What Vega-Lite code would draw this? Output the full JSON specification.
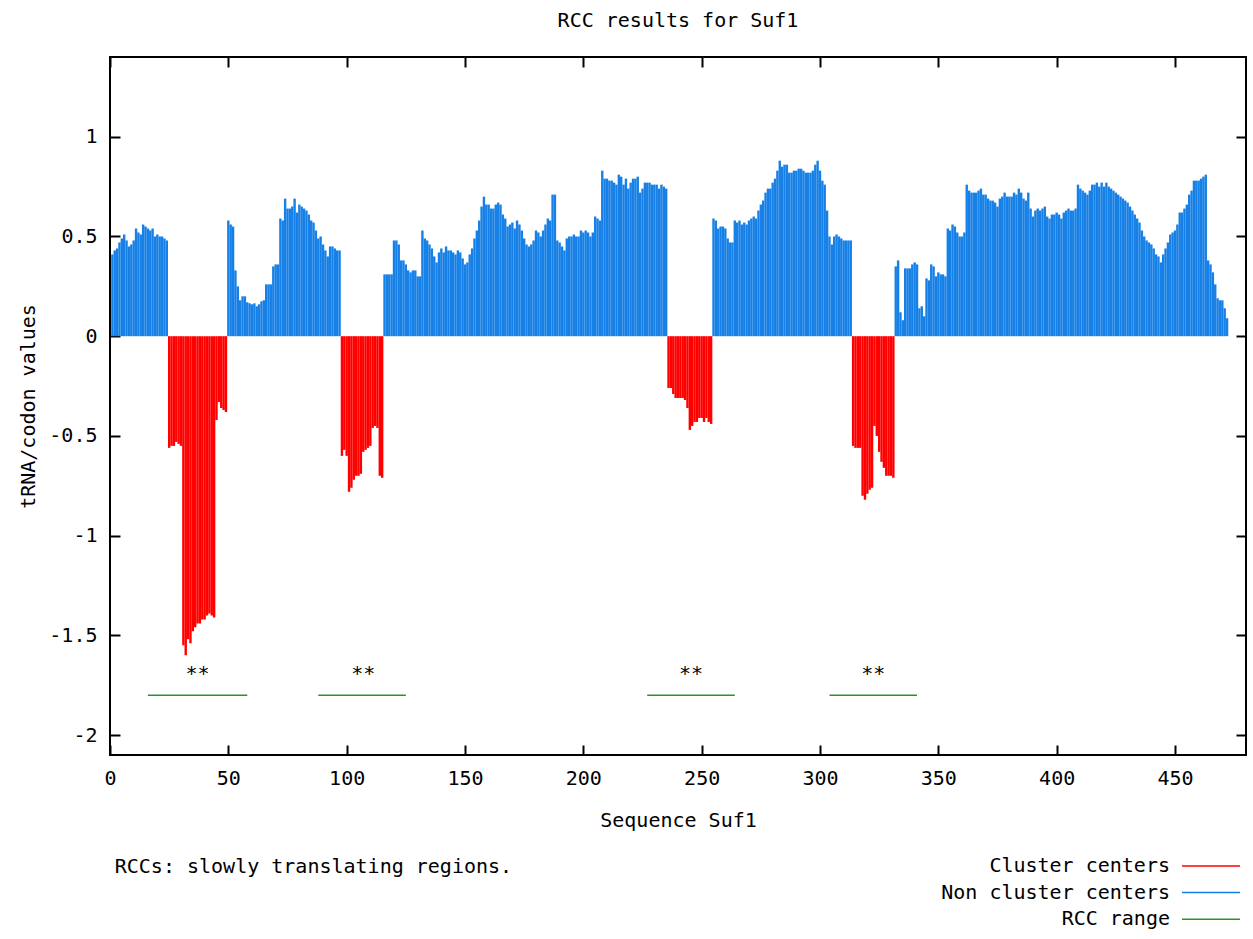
{
"$schema": "https://vega.github.io/schema/vega-lite/v6.json",
"width": 1136, "height": 698,
"autosize": {"type": "none"},
"padding": {"left": 110, "top": 57, "right": 7, "bottom": 184},
"background": "white",
"title": {"text": "RCC results for Suf1", "font": "DejaVu Sans Mono", "fontSize": 20, "fontWeight": "normal", "color": "black", "anchor": "middle", "offset": 25},
"config": {
 "view": {"stroke": "black", "strokeWidth": 2},
 "axis": {"labelFont": "DejaVu Sans Mono", "labelFontSize": 20, "labelColor": "black", "titleFont": "DejaVu Sans Mono", "titleFontSize": 20, "titleFontWeight": "normal", "titleColor": "black", "ticks": true, "tickColor": "black", "tickSize": 10, "tickWidth": 2, "domain": false, "grid": false, "offset": -10, "labelFlush": false, "labelOverlap": false},
 "legend": {"orient": "none", "legendX": 1090, "legendY": 798, "title": null, "symbolType": "M-2.9,0H2.9", "symbolSize": 400, "symbolStrokeWidth": 1.5, "labelAlign": "right", "labelOffset": -52, "labelFont": "DejaVu Sans Mono", "labelFontSize": 20, "labelColor": "black", "rowPadding": 5.6, "padding": 0, "labelLimit": 0}
},
"datasets": {
 "noncluster": [
  {"p":1,"v":0.41},{"p":2,"v":0.43},{"p":3,"v":0.44},{"p":4,"v":0.47},{"p":5,"v":0.49},{"p":6,"v":0.51},{"p":7,"v":0.48},{"p":8,"v":0.45},{"p":9,"v":0.46},{"p":10,"v":0.48},
  {"p":11,"v":0.54},{"p":12,"v":0.52},{"p":13,"v":0.51},{"p":14,"v":0.56},{"p":15,"v":0.55},{"p":16,"v":0.54},{"p":17,"v":0.53},{"p":18,"v":0.54},{"p":19,"v":0.50},{"p":20,"v":0.51},
  {"p":21,"v":0.50},{"p":22,"v":0.50},{"p":23,"v":0.49},{"p":24,"v":0.48},
  {"p":50,"v":0.58},{"p":51,"v":0.56},{"p":52,"v":0.55},{"p":53,"v":0.33},{"p":54,"v":0.25},{"p":55,"v":0.18},{"p":56,"v":0.20},{"p":57,"v":0.20},{"p":58,"v":0.17},{"p":59,"v":0.165},
  {"p":60,"v":0.16},{"p":61,"v":0.165},{"p":62,"v":0.15},{"p":63,"v":0.16},{"p":64,"v":0.175},{"p":65,"v":0.18},{"p":66,"v":0.26},{"p":67,"v":0.26},{"p":68,"v":0.26},{"p":69,"v":0.35},
  {"p":70,"v":0.36},{"p":71,"v":0.36},{"p":72,"v":0.59},{"p":73,"v":0.58},{"p":74,"v":0.69},{"p":75,"v":0.64},{"p":76,"v":0.64},{"p":77,"v":0.65},{"p":78,"v":0.69},{"p":79,"v":0.62},
  {"p":80,"v":0.66},{"p":81,"v":0.65},{"p":82,"v":0.64},{"p":83,"v":0.63},{"p":84,"v":0.61},{"p":85,"v":0.58},{"p":86,"v":0.57},{"p":87,"v":0.53},{"p":88,"v":0.49},{"p":89,"v":0.50},
  {"p":90,"v":0.46},{"p":91,"v":0.43},{"p":92,"v":0.40},{"p":93,"v":0.45},{"p":94,"v":0.45},{"p":95,"v":0.44},{"p":96,"v":0.43},{"p":97,"v":0.43},
  {"p":116,"v":0.31},{"p":117,"v":0.31},{"p":118,"v":0.31},{"p":119,"v":0.31},
  {"p":120,"v":0.48},{"p":121,"v":0.48},{"p":122,"v":0.46},{"p":123,"v":0.38},{"p":124,"v":0.38},{"p":125,"v":0.36},{"p":126,"v":0.33},{"p":127,"v":0.32},{"p":128,"v":0.33},{"p":129,"v":0.33},
  {"p":130,"v":0.30},{"p":131,"v":0.30},{"p":132,"v":0.53},{"p":133,"v":0.49},{"p":134,"v":0.48},{"p":135,"v":0.46},{"p":136,"v":0.44},{"p":137,"v":0.40},{"p":138,"v":0.37},{"p":139,"v":0.42},
  {"p":140,"v":0.44},{"p":141,"v":0.42},{"p":142,"v":0.45},{"p":143,"v":0.43},{"p":144,"v":0.43},{"p":145,"v":0.42},{"p":146,"v":0.41},{"p":147,"v":0.43},{"p":148,"v":0.42},{"p":149,"v":0.39},
  {"p":150,"v":0.36},{"p":151,"v":0.37},{"p":152,"v":0.41},{"p":153,"v":0.44},{"p":154,"v":0.49},{"p":155,"v":0.53},{"p":156,"v":0.58},{"p":157,"v":0.65},{"p":158,"v":0.70},{"p":159,"v":0.66},
  {"p":160,"v":0.66},{"p":161,"v":0.64},{"p":162,"v":0.64},{"p":163,"v":0.66},{"p":164,"v":0.67},{"p":165,"v":0.66},{"p":166,"v":0.61},{"p":167,"v":0.59},{"p":168,"v":0.55},{"p":169,"v":0.56},
  {"p":170,"v":0.57},{"p":171,"v":0.54},{"p":172,"v":0.58},{"p":173,"v":0.56},{"p":174,"v":0.53},{"p":175,"v":0.49},{"p":176,"v":0.46},{"p":177,"v":0.45},{"p":178,"v":0.46},{"p":179,"v":0.48},
  {"p":180,"v":0.53},{"p":181,"v":0.52},{"p":182,"v":0.50},{"p":183,"v":0.53},{"p":184,"v":0.56},{"p":185,"v":0.59},{"p":186,"v":0.58},{"p":187,"v":0.71},{"p":188,"v":0.71},{"p":189,"v":0.48},
  {"p":190,"v":0.47},{"p":191,"v":0.45},{"p":192,"v":0.43},{"p":193,"v":0.49},{"p":194,"v":0.50},{"p":195,"v":0.50},{"p":196,"v":0.51},{"p":197,"v":0.50},{"p":198,"v":0.50},{"p":199,"v":0.53},
  {"p":200,"v":0.52},{"p":201,"v":0.53},{"p":202,"v":0.52},{"p":203,"v":0.50},{"p":204,"v":0.52},{"p":205,"v":0.60},{"p":206,"v":0.59},{"p":207,"v":0.58},{"p":208,"v":0.83},{"p":209,"v":0.79},
  {"p":210,"v":0.79},{"p":211,"v":0.78},{"p":212,"v":0.78},{"p":213,"v":0.77},{"p":214,"v":0.76},{"p":215,"v":0.81},{"p":216,"v":0.80},{"p":217,"v":0.76},{"p":218,"v":0.79},{"p":219,"v":0.74},
  {"p":220,"v":0.77},{"p":221,"v":0.79},{"p":222,"v":0.79},{"p":223,"v":0.80},{"p":224,"v":0.72},{"p":225,"v":0.74},{"p":226,"v":0.77},{"p":227,"v":0.77},{"p":228,"v":0.77},{"p":229,"v":0.76},
  {"p":230,"v":0.76},{"p":231,"v":0.76},{"p":232,"v":0.74},{"p":233,"v":0.76},{"p":234,"v":0.75},{"p":235,"v":0.74},
  {"p":255,"v":0.59},{"p":256,"v":0.58},{"p":257,"v":0.54},{"p":258,"v":0.55},{"p":259,"v":0.55},
  {"p":260,"v":0.54},{"p":261,"v":0.49},{"p":262,"v":0.47},{"p":263,"v":0.47},{"p":264,"v":0.58},{"p":265,"v":0.57},{"p":266,"v":0.58},{"p":267,"v":0.56},{"p":268,"v":0.57},{"p":269,"v":0.56},
  {"p":270,"v":0.58},{"p":271,"v":0.59},{"p":272,"v":0.60},{"p":273,"v":0.59},{"p":274,"v":0.63},{"p":275,"v":0.66},{"p":276,"v":0.68},{"p":277,"v":0.72},{"p":278,"v":0.74},{"p":279,"v":0.74},
  {"p":280,"v":0.77},{"p":281,"v":0.79},{"p":282,"v":0.83},{"p":283,"v":0.88},{"p":284,"v":0.85},{"p":285,"v":0.86},{"p":286,"v":0.86},{"p":287,"v":0.82},{"p":288,"v":0.82},{"p":289,"v":0.83},
  {"p":290,"v":0.83},{"p":291,"v":0.84},{"p":292,"v":0.84},{"p":293,"v":0.83},{"p":294,"v":0.82},{"p":295,"v":0.82},{"p":296,"v":0.82},{"p":297,"v":0.83},{"p":298,"v":0.86},{"p":299,"v":0.88},
  {"p":300,"v":0.83},{"p":301,"v":0.78},{"p":302,"v":0.76},{"p":303,"v":0.63},{"p":304,"v":0.50},{"p":305,"v":0.46},{"p":306,"v":0.50},{"p":307,"v":0.51},{"p":308,"v":0.50},{"p":309,"v":0.49},
  {"p":310,"v":0.48},{"p":311,"v":0.48},{"p":312,"v":0.48},{"p":313,"v":0.48},
  {"p":332,"v":0.35},{"p":333,"v":0.38},{"p":334,"v":0.12},{"p":335,"v":0.08},{"p":336,"v":0.34},{"p":337,"v":0.34},{"p":338,"v":0.34},{"p":339,"v":0.36},
  {"p":340,"v":0.37},{"p":341,"v":0.36},{"p":342,"v":0.14},{"p":343,"v":0.15},{"p":344,"v":0.10},{"p":345,"v":0.29},{"p":346,"v":0.28},{"p":347,"v":0.36},{"p":348,"v":0.35},{"p":349,"v":0.30},
  {"p":350,"v":0.32},{"p":351,"v":0.31},{"p":352,"v":0.31},{"p":353,"v":0.30},{"p":354,"v":0.54},{"p":355,"v":0.53},{"p":356,"v":0.56},{"p":357,"v":0.55},{"p":358,"v":0.52},{"p":359,"v":0.50},
  {"p":360,"v":0.50},{"p":361,"v":0.52},{"p":362,"v":0.76},{"p":363,"v":0.73},{"p":364,"v":0.72},{"p":365,"v":0.72},{"p":366,"v":0.72},{"p":367,"v":0.73},{"p":368,"v":0.74},{"p":369,"v":0.71},
  {"p":370,"v":0.71},{"p":371,"v":0.69},{"p":372,"v":0.68},{"p":373,"v":0.68},{"p":374,"v":0.67},{"p":375,"v":0.65},{"p":376,"v":0.69},{"p":377,"v":0.70},{"p":378,"v":0.72},{"p":379,"v":0.70},
  {"p":380,"v":0.70},{"p":381,"v":0.70},{"p":382,"v":0.72},{"p":383,"v":0.71},{"p":384,"v":0.74},{"p":385,"v":0.72},{"p":386,"v":0.69},{"p":387,"v":0.68},{"p":388,"v":0.72},{"p":389,"v":0.64},
  {"p":390,"v":0.60},{"p":391,"v":0.63},{"p":392,"v":0.64},{"p":393,"v":0.63},{"p":394,"v":0.64},{"p":395,"v":0.65},{"p":396,"v":0.60},{"p":397,"v":0.59},{"p":398,"v":0.61},{"p":399,"v":0.61},
  {"p":400,"v":0.62},{"p":401,"v":0.61},{"p":402,"v":0.59},{"p":403,"v":0.62},{"p":404,"v":0.63},{"p":405,"v":0.64},{"p":406,"v":0.63},{"p":407,"v":0.63},{"p":408,"v":0.64},{"p":409,"v":0.76},
  {"p":410,"v":0.74},{"p":411,"v":0.73},{"p":412,"v":0.72},{"p":413,"v":0.71},{"p":414,"v":0.73},{"p":415,"v":0.76},{"p":416,"v":0.76},{"p":417,"v":0.77},{"p":418,"v":0.75},{"p":419,"v":0.77},
  {"p":420,"v":0.75},{"p":421,"v":0.77},{"p":422,"v":0.75},{"p":423,"v":0.74},{"p":424,"v":0.73},{"p":425,"v":0.72},{"p":426,"v":0.71},{"p":427,"v":0.70},{"p":428,"v":0.69},{"p":429,"v":0.68},
  {"p":430,"v":0.67},{"p":431,"v":0.65},{"p":432,"v":0.63},{"p":433,"v":0.61},{"p":434,"v":0.59},{"p":435,"v":0.57},{"p":436,"v":0.53},{"p":437,"v":0.50},{"p":438,"v":0.48},{"p":439,"v":0.47},
  {"p":440,"v":0.46},{"p":441,"v":0.44},{"p":442,"v":0.41},{"p":443,"v":0.40},{"p":444,"v":0.37},{"p":445,"v":0.41},{"p":446,"v":0.44},{"p":447,"v":0.47},{"p":448,"v":0.51},{"p":449,"v":0.52},
  {"p":450,"v":0.53},{"p":451,"v":0.56},{"p":452,"v":0.62},{"p":453,"v":0.62},{"p":454,"v":0.64},{"p":455,"v":0.66},{"p":456,"v":0.71},{"p":457,"v":0.73},{"p":458,"v":0.78},{"p":459,"v":0.78},
  {"p":460,"v":0.78},{"p":461,"v":0.79},{"p":462,"v":0.80},{"p":463,"v":0.81},{"p":464,"v":0.38},{"p":465,"v":0.36},{"p":466,"v":0.32},{"p":467,"v":0.26},{"p":468,"v":0.19},{"p":469,"v":0.18},
  {"p":470,"v":0.18},{"p":471,"v":0.14},{"p":472,"v":0.09}
 ],
 "cluster": [
  {"p":25,"v":-0.56},{"p":26,"v":-0.55},{"p":27,"v":-0.55},{"p":28,"v":-0.53},{"p":29,"v":-0.54},{"p":30,"v":-0.55},{"p":31,"v":-1.55},{"p":32,"v":-1.6},{"p":33,"v":-1.52},{"p":34,"v":-1.54},
  {"p":35,"v":-1.48},{"p":36,"v":-1.46},{"p":37,"v":-1.44},{"p":38,"v":-1.44},{"p":39,"v":-1.42},{"p":40,"v":-1.42},{"p":41,"v":-1.40},{"p":42,"v":-1.39},{"p":43,"v":-1.40},{"p":44,"v":-1.41},
  {"p":45,"v":-0.42},{"p":46,"v":-0.33},{"p":47,"v":-0.36},{"p":48,"v":-0.37},{"p":49,"v":-0.38},
  {"p":98,"v":-0.60},{"p":99,"v":-0.57},{"p":100,"v":-0.60},{"p":101,"v":-0.78},{"p":102,"v":-0.76},{"p":103,"v":-0.72},{"p":104,"v":-0.70},{"p":105,"v":-0.70},{"p":106,"v":-0.69},{"p":107,"v":-0.58},
  {"p":108,"v":-0.57},{"p":109,"v":-0.56},{"p":110,"v":-0.55},{"p":111,"v":-0.46},{"p":112,"v":-0.45},{"p":113,"v":-0.46},{"p":114,"v":-0.70},{"p":115,"v":-0.71},
  {"p":236,"v":-0.26},{"p":237,"v":-0.26},{"p":238,"v":-0.29},{"p":239,"v":-0.31},{"p":240,"v":-0.31},{"p":241,"v":-0.31},{"p":242,"v":-0.31},{"p":243,"v":-0.32},{"p":244,"v":-0.36},{"p":245,"v":-0.47},
  {"p":246,"v":-0.45},{"p":247,"v":-0.43},{"p":248,"v":-0.43},{"p":249,"v":-0.41},{"p":250,"v":-0.41},{"p":251,"v":-0.43},{"p":252,"v":-0.41},{"p":253,"v":-0.43},{"p":254,"v":-0.44},
  {"p":314,"v":-0.55},{"p":315,"v":-0.56},{"p":316,"v":-0.56},{"p":317,"v":-0.56},{"p":318,"v":-0.80},{"p":319,"v":-0.82},{"p":320,"v":-0.79},{"p":321,"v":-0.77},{"p":322,"v":-0.76},{"p":323,"v":-0.45},
  {"p":324,"v":-0.50},{"p":325,"v":-0.58},{"p":326,"v":-0.63},{"p":327,"v":-0.66},{"p":328,"v":-0.70},{"p":329,"v":-0.70},{"p":330,"v":-0.70},{"p":331,"v":-0.71}
 ],
 "ranges": [
  {"start":16,"end":58,"center":37,"mark":"**"},
  {"start":88,"end":125,"center":107,"mark":"**"},
  {"start":227,"end":264,"center":245.5,"mark":"**"},
  {"start":304,"end":341,"center":322.5,"mark":"**"}
 ],
 "note": [{"text":"RCCs: slowly translating regions."}]
},
"resolve": {"axis": {"x": "independent", "y": "independent"}},
"layer": [
 {
  "data": {"name": "noncluster"},
  "mark": {"type": "rule", "strokeWidth": 2.4, "strokeCap": "butt"},
  "encoding": {
   "x": {"field": "p", "type": "quantitative", "scale": {"domain": [0, 480], "nice": false, "zero": false},
         "axis": {"orient": "bottom", "values": [0,50,100,150,200,250,300,350,400,450], "labelPadding": 13, "title": "Sequence Suf1", "titlePadding": 22}},
   "y": {"field": "v", "type": "quantitative", "scale": {"domain": [-2.1, 1.4], "nice": false, "zero": false},
         "axis": {"orient": "left", "values": [-2,-1.5,-1,-0.5,0,0.5,1], "labelExpr": "'' + datum.value", "labelPadding": 13, "title": "tRNA/codon values", "titlePadding": 10}},
   "y2": {"datum": 0},
   "color": {"datum": "Non cluster centers", "scale": {"domain": ["Cluster centers", "Non cluster centers", "RCC range"], "range": ["#ff0000", "#1680e6", "#2f8f2f"]}}
  }
 },
 {
  "data": {"name": "cluster"},
  "mark": {"type": "rule", "strokeWidth": 2.4, "strokeCap": "butt"},
  "encoding": {
   "x": {"field": "p", "type": "quantitative", "scale": {"domain": [0, 480], "nice": false, "zero": false},
         "axis": {"orient": "top", "values": [0,50,100,150,200,250,300,350,400,450], "labels": false, "title": null}},
   "y": {"field": "v", "type": "quantitative", "scale": {"domain": [-2.1, 1.4], "nice": false, "zero": false},
         "axis": {"orient": "right", "values": [-2,-1.5,-1,-0.5,0,0.5,1], "labels": false, "title": null}},
   "y2": {"datum": 0},
   "color": {"datum": "Cluster centers"}
  }
 },
 {
  "mark": {"type": "rule", "color": "black", "strokeWidth": 1},
  "encoding": {"y": {"datum": 0, "type": "quantitative", "axis": null}}
 },
 {
  "data": {"name": "ranges"},
  "mark": {"type": "rule", "strokeWidth": 1.5},
  "encoding": {
   "x": {"field": "start", "type": "quantitative", "axis": null},
   "x2": {"field": "end"},
   "y": {"datum": -1.8, "type": "quantitative", "axis": null},
   "color": {"datum": "RCC range"}
  }
 },
 {
  "data": {"name": "ranges"},
  "mark": {"type": "text", "font": "DejaVu Sans Mono", "fontSize": 20, "color": "black", "baseline": "alphabetic", "align": "center"},
  "encoding": {
   "x": {"field": "center", "type": "quantitative", "axis": null},
   "y": {"datum": -1.725, "type": "quantitative", "axis": null},
   "text": {"field": "mark"}
  }
 },
 {
  "data": {"name": "note"},
  "mark": {"type": "text", "font": "DejaVu Sans Mono", "fontSize": 20, "color": "black", "baseline": "middle", "align": "left", "clip": false},
  "encoding": {
   "x": {"datum": 2, "type": "quantitative", "axis": null},
   "y": {"datum": -2.662, "type": "quantitative", "axis": null},
   "text": {"field": "text"}
  }
 }
]
}
